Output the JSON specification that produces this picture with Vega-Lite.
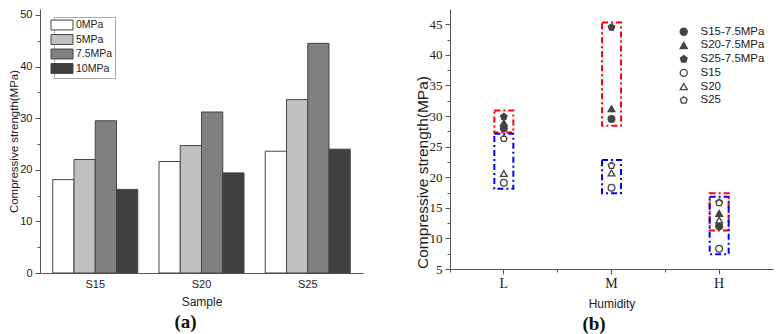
{
  "$schema": "https://vega.github.io/schema/vega-lite/v6.json",
  "background": "white",
  "padding": {"left": 8, "top": 8, "right": 5, "bottom": 4},
  "spacing": 52,
  "config": {
    "view": {"stroke": null},
    "font": "Liberation Sans",
    "axis": {
      "grid": false,
      "domainColor": "#555555",
      "tickColor": "#555555",
      "labelColor": "#222222",
      "titleColor": "#222222",
      "labelFont": "Liberation Sans",
      "titleFont": "Liberation Sans",
      "titleFontWeight": "normal",
      "labelOverlap": false
    }
  },
  "resolve": {
    "scale": {"x": "independent", "y": "independent", "fill": "independent", "shape": "independent"},
    "legend": {"fill": "independent", "shape": "independent"}
  },
  "hconcat": [
    {
      "width": 323,
      "height": 264,
      "title": {"text": "(a)", "orient": "bottom", "anchor": "middle", "frame": "bounds", "font": "Liberation Serif", "fontSize": 19, "fontWeight": "bold", "color": "#111111", "offset": 6},
      "data": {
        "values": [
          {"Sample": "S15", "Pressure": "0MPa", "Strength": 18.1},
          {"Sample": "S15", "Pressure": "5MPa", "Strength": 22.0},
          {"Sample": "S15", "Pressure": "7.5MPa", "Strength": 29.5},
          {"Sample": "S15", "Pressure": "10MPa", "Strength": 16.2},
          {"Sample": "S20", "Pressure": "0MPa", "Strength": 21.6},
          {"Sample": "S20", "Pressure": "5MPa", "Strength": 24.7},
          {"Sample": "S20", "Pressure": "7.5MPa", "Strength": 31.2},
          {"Sample": "S20", "Pressure": "10MPa", "Strength": 19.4},
          {"Sample": "S25", "Pressure": "0MPa", "Strength": 23.6},
          {"Sample": "S25", "Pressure": "5MPa", "Strength": 33.6},
          {"Sample": "S25", "Pressure": "7.5MPa", "Strength": 44.5},
          {"Sample": "S25", "Pressure": "10MPa", "Strength": 24.0}
        ]
      },
      "mark": {"type": "bar", "stroke": "#444444", "strokeWidth": 1},
      "encoding": {
        "x": {
          "field": "Sample", "type": "nominal", "sort": ["S15", "S20", "S25"],
          "scale": {"paddingInner": 0.2, "paddingOuter": 0.12},
          "axis": {"title": "Sample", "labelAngle": 0, "ticks": false, "labelPadding": 5, "labelFontSize": 11, "titleFontSize": 12, "titlePadding": 7}
        },
        "xOffset": {"field": "Pressure", "type": "nominal", "sort": ["0MPa", "5MPa", "7.5MPa", "10MPa"]},
        "y": {
          "field": "Strength", "type": "quantitative",
          "scale": {"domain": [0, 51.16], "nice": false},
          "axis": {
            "title": "Compressive strength(MPa)",
            "values": [0, 5, 10, 15, 20, 25, 30, 35, 40, 45, 50],
            "labelExpr": "datum.value % 10 === 0 ? datum.label : ''",
            "labelOverlap": false,
            "tickSize": {"condition": {"test": "datum.value % 10 !== 0", "value": 3}, "value": 5},
            "labelFontSize": 11,
            "labelPadding": 3,
            "titleFontSize": 11.5,
            "titleBaseline": "middle",
            "titleX": -26
          }
        },
        "fill": {
          "field": "Pressure", "type": "nominal",
          "scale": {"domain": ["0MPa", "5MPa", "7.5MPa", "10MPa"], "range": ["#ffffff", "#c0c0c0", "#808080", "#404040"]},
          "legend": {
            "title": null, "orient": "none", "legendX": 14, "legendY": 8,
            "symbolType": "M-2,-0.9L2,-0.9L2,0.9L-2,0.9Z", "symbolSize": 121,
            "symbolStrokeColor": "#444444", "symbolStrokeWidth": 1,
            "labelFontSize": 10.5, "labelColor": "#222222", "labelOffset": 8,
            "rowPadding": 0.5, "padding": 2, "strokeColor": "#aaaaaa", "fillColor": "#ffffff"
          }
        }
      }
    },
    {
      "width": 323,
      "height": 260,
      "title": {"text": "(b)", "orient": "bottom", "anchor": "middle", "frame": "bounds", "font": "Liberation Serif", "fontSize": 19, "fontWeight": "bold", "color": "#111111", "offset": 6},
      "layer": [
        {
          "data": {
            "values": [
              {"Humidity": "L", "Group": "7.5MPa", "Low": 27.3, "High": 30.9},
              {"Humidity": "L", "Group": "0MPa", "Low": 18.1, "High": 27.1},
              {"Humidity": "M", "Group": "7.5MPa", "Low": 28.4, "High": 45.3},
              {"Humidity": "M", "Group": "0MPa", "Low": 17.4, "High": 22.8},
              {"Humidity": "H", "Group": "7.5MPa", "Low": 11.3, "High": 17.4},
              {"Humidity": "H", "Group": "0MPa", "Low": 7.4, "High": 16.8}
            ]
          },
          "mark": {"type": "bar", "fill": null, "fillOpacity": 0, "strokeWidth": 2, "strokeDash": [6, 3, 2, 3], "width": 19},
          "encoding": {
            "x": {
              "field": "Humidity", "type": "nominal",
              "scale": {"domain": ["L", "M", "H"], "paddingInner": 0, "paddingOuter": 0},
              "axis": {"orient": "bottom", "title": "Humidity", "labelAngle": 0, "labelFont": "Liberation Serif", "labelFontSize": 14, "tickSize": 5, "labelPadding": 2, "titleFontSize": 12, "titlePadding": 8}
            },
            "y": {
              "field": "Low", "type": "quantitative",
              "scale": {"domain": [5, 47.5], "nice": false},
              "axis": {
                "title": "Compressive strength(MPa)",
                "values": [5, 7.5, 10, 12.5, 15, 17.5, 20, 22.5, 25, 27.5, 30, 32.5, 35, 37.5, 40, 42.5, 45],
                "labelExpr": "datum.value % 5 === 0 ? datum.label : ''",
                "labelOverlap": false,
                "tickSize": {"condition": {"test": "datum.value % 5 !== 0", "value": 3}, "value": 5},
                "labelFont": "Liberation Serif",
                "labelFontSize": 13,
                "labelPadding": 3,
                "titleFontSize": 15.5,
                "titleAngle": 270,
                "titleAlign": "center",
                "titleBaseline": "middle",
                "titleX": -28,
                "titleY": 163
              }
            },
            "y2": {"field": "High"},
            "stroke": {
              "field": "Group", "type": "nominal",
              "scale": {"domain": ["7.5MPa", "0MPa"], "range": ["#ff0000", "#0000ff"]},
              "legend": null
            }
          }
        },
        {
          "data": {
            "values": [
              {"Series": "S15-7.5MPa", "Humidity": "L", "Strength": 28.0},
              {"Series": "S15-7.5MPa", "Humidity": "M", "Strength": 29.5},
              {"Series": "S15-7.5MPa", "Humidity": "H", "Strength": 12.0},
              {"Series": "S20-7.5MPa", "Humidity": "L", "Strength": 28.9},
              {"Series": "S20-7.5MPa", "Humidity": "M", "Strength": 31.2},
              {"Series": "S20-7.5MPa", "Humidity": "H", "Strength": 14.1},
              {"Series": "S25-7.5MPa", "Humidity": "L", "Strength": 29.9},
              {"Series": "S25-7.5MPa", "Humidity": "M", "Strength": 44.5},
              {"Series": "S25-7.5MPa", "Humidity": "H", "Strength": 15.9},
              {"Series": "S15", "Humidity": "L", "Strength": 19.1},
              {"Series": "S15", "Humidity": "M", "Strength": 18.3},
              {"Series": "S15", "Humidity": "H", "Strength": 8.3},
              {"Series": "S20", "Humidity": "L", "Strength": 20.6},
              {"Series": "S20", "Humidity": "M", "Strength": 20.7},
              {"Series": "S20", "Humidity": "H", "Strength": 13.0},
              {"Series": "S25", "Humidity": "L", "Strength": 26.3},
              {"Series": "S25", "Humidity": "M", "Strength": 21.9},
              {"Series": "S25", "Humidity": "H", "Strength": 15.8}
            ]
          },
          "mark": {"type": "point", "filled": false, "size": 45, "strokeWidth": 1.3, "opacity": 1},
          "encoding": {
            "x": {
              "field": "Humidity", "type": "nominal",
              "axis": {"orient": "bottom", "title": null, "labels": false, "domain": false, "tickSize": 3, "bandPosition": 0}
            },
            "y": {
              "field": "Strength", "type": "quantitative",
              "axis": {
                "title": "Compressive strength(MPa)",
                "values": [5, 7.5, 10, 12.5, 15, 17.5, 20, 22.5, 25, 27.5, 30, 32.5, 35, 37.5, 40, 42.5, 45],
                "labelExpr": "datum.value % 5 === 0 ? datum.label : ''",
                "labelOverlap": false,
                "tickSize": {"condition": {"test": "datum.value % 5 !== 0", "value": 3}, "value": 5},
                "labelFont": "Liberation Serif",
                "labelFontSize": 13,
                "labelPadding": 3,
                "titleFontSize": 15.5,
                "titleAngle": 270,
                "titleAlign": "center",
                "titleBaseline": "middle",
                "titleX": -28,
                "titleY": 163
              }
            },
            "shape": {
              "field": "Series", "type": "nominal",
              "scale": {
                "domain": ["S15-7.5MPa", "S20-7.5MPa", "S25-7.5MPa", "S15", "S20", "S25"],
                "range": ["circle", "triangle-up", "M0,-1L0.951,-0.309L0.588,0.809L-0.588,0.809L-0.951,-0.309Z", "circle", "triangle-up", "M0,-1L0.951,-0.309L0.588,0.809L-0.588,0.809L-0.951,-0.309Z"]
              },
              "legend": {
                "title": null, "orient": "none", "legendX": 228, "legendY": 17,
                "symbolSize": 50, "symbolStrokeWidth": 1.3,
                "labelFontSize": 11.5, "labelColor": "#222222", "labelOffset": 11, "rowPadding": 0.7, "padding": 0,
                "encode": {
                  "symbols": {
                    "update": {
                      "fill": {"signal": "indexof(['S15', 'S20', 'S25'], datum.value) >= 0 ? '#ffffff' : '#444444'"},
                      "stroke": {"value": "#444444"},
                      "strokeWidth": {"value": 1.3},
                      "opacity": {"value": 1}
                    }
                  }
                }
              }
            },
            "fill": {
              "field": "Series", "type": "nominal",
              "scale": {
                "domain": ["S15-7.5MPa", "S20-7.5MPa", "S25-7.5MPa", "S15", "S20", "S25"],
                "range": ["#444444", "#444444", "#444444", "#ffffff", "#ffffff", "#ffffff"]
              },
              "legend": null
            },
            "stroke": {"value": "#444444"}
          }
        }
      ],
      "resolve": {"axis": {"x": "independent"}}
    }
  ]
}
